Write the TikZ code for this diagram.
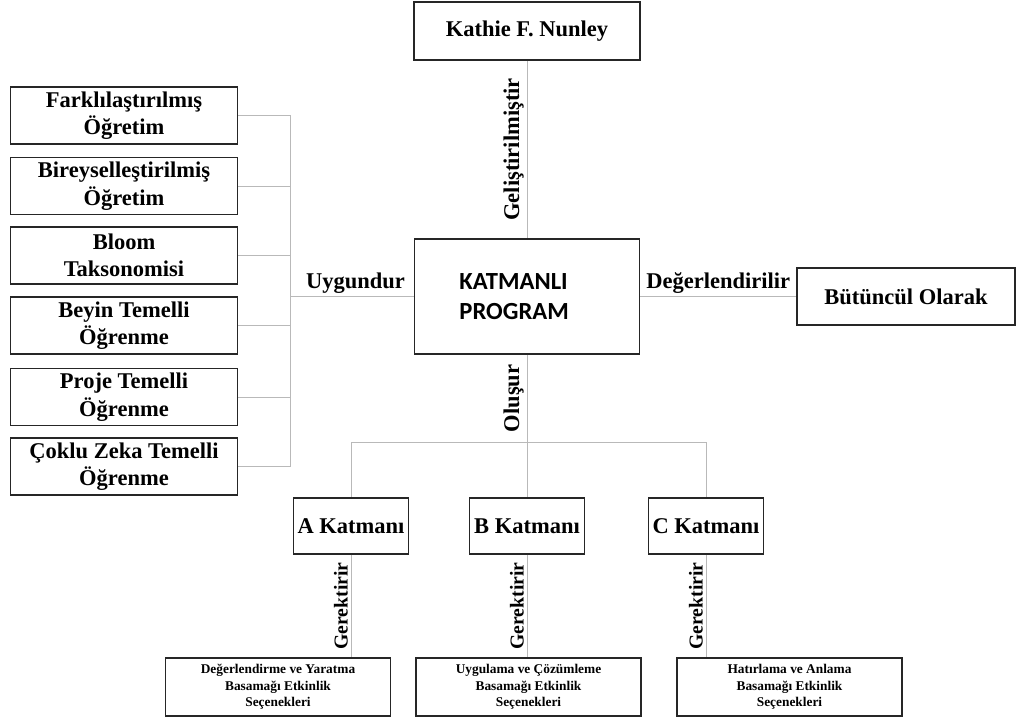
\documentclass[tikz,border=0pt]{standalone}
\usepackage{fontspec}
\setmainfont{Liberation Serif}
\newfontfamily\progfont{Carlito}
\usetikzlibrary{positioning}
\tikzset{
  kutu/.style={draw=black!85, line width=1.3pt, fill=white, align=center, inner sep=2pt, font=\bfseries\fontsize{16}{19.5}\selectfont},
  solkutu/.style={kutu, minimum width=5.675cm, minimum height=1.425cm},
  katkutu/.style={kutu, minimum width=2.875cm, minimum height=1.4cm},
  altkutu/.style={kutu, minimum width=5.625cm, minimum height=1.45cm, font=\bfseries\fontsize{9.5}{11.8}\selectfont},
  baglanti/.style={draw=gray!55, line width=0.6pt},
  etiket/.style={font=\bfseries\fontsize{16}{19}\selectfont, inner sep=2pt},
  dikyazi/.style={etiket, rotate=90, anchor=south}
}
\begin{document}
\begin{tikzpicture}[x=0.025cm, y=-0.025cm]
  \useasboundingbox (0,0) rectangle (1017,720);
  % ust ve orta kutular
  \node[kutu, minimum width=5.65cm, minimum height=1.45cm] (nunley) at (527,31) {Kathie F. Nunley};
  \node[kutu, minimum width=5.625cm, minimum height=2.875cm, text width=3.375cm, inner xsep=1.125cm, align=left,
        font=\progfont\bfseries\fontsize{17.5}{21}\selectfont] (prog) at (527,296.5) {KATMANLI\\PROGRAM};
  \node[kutu, minimum width=5.45cm, minimum height=1.425cm] (butun) at (906,296.5) {Bütüncül Olarak};
  % sol kutular
  \foreach \ad/\y/\metin in {f1/115.5/{Farklılaştırılmış\\Öğretim}, f2/186/{Bireyselleştirilmiş\\Öğretim},
      f3/255.5/{Bloom\\Taksonomisi}, f4/325.5/{Beyin Temelli\\Öğrenme}, f5/397/{Proje Temelli\\Öğrenme},
      f6/466.5/{Çoklu Zeka Temelli\\Öğrenme}}
    \node[solkutu] (\ad) at (124,\y) {\metin};
  % katmanlar
  \node[katkutu] (ka) at (351,526) {A Katmanı};
  \node[katkutu] (kb) at (527,526) {B Katmanı};
  \node[katkutu] (kc) at (706,526) {C Katmanı};
  \node[altkutu] (da) at (278,687) {Değerlendirme ve Yaratma\\Basamağı Etkinlik\\Seçenekleri};
  \node[altkutu] (db) at (528.5,687) {Uygulama ve Çözümleme\\Basamağı Etkinlik\\Seçenekleri};
  \node[altkutu] (dc) at (789.5,687) {Hatırlama ve Anlama\\Basamağı Etkinlik\\Seçenekleri};
  % baglantilar
  \coordinate (solbag) at (290,296.5);
  \coordinate (altbag) at (527,442);
  \foreach \ad in {f1,f2,f3,f4,f5,f6}
    \draw[baglanti] (\ad.east) -| (solbag);
  \draw[baglanti] (prog) -- node[etiket, above, pos=0.47] {Uygundur} (solbag);
  \draw[baglanti] (nunley) -- node[dikyazi] {Geliştirilmiştir} (prog);
  \draw[baglanti] (prog) -- node[etiket, above] {Değerlendirilir} (butun);
  \draw[baglanti] (prog) -- node[dikyazi] {Oluşur} (altbag);
  \foreach \k in {ka,kb,kc}
    \draw[baglanti] (altbag) -| (\k);
  \foreach \k/\d in {ka/da,kb/db,kc/dc}
    \draw[baglanti] (\k) -- node[dikyazi, font=\bfseries\fontsize{14}{17}\selectfont] {Gerektirir} (\k |- \d.north);
\end{tikzpicture}
\end{document}
